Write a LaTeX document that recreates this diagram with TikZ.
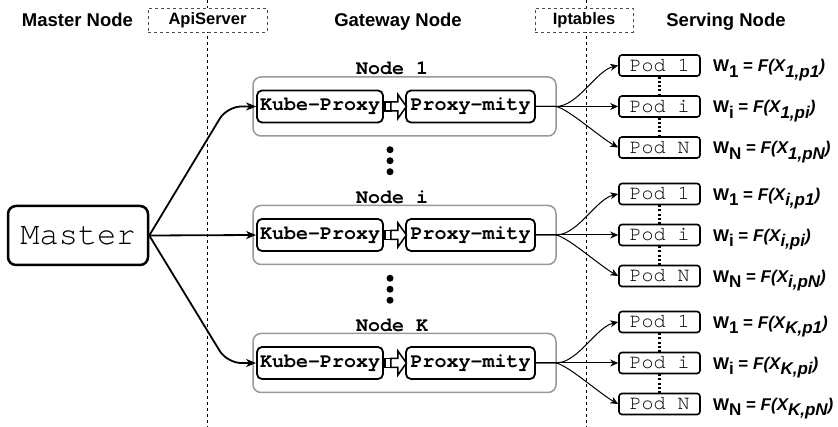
\documentclass[tikz,border=0pt]{standalone}
\usepackage{fontspec}
\setmainfont{Liberation Sans}
\newfontfamily\monofam{texgyrecursor}[Extension=.otf, UprightFont=*-regular, BoldFont=*-bold]
\usetikzlibrary{arrows.meta,calc}
\newcommand\lowr[1]{\raisebox{-5.5pt}{#1}}
\begin{document}
\begin{tikzpicture}[x=1pt,y=-1pt,
  hdr/.style={font=\fontsize{18.5}{20}\selectfont\bfseries, inner sep=0, anchor=base},
  tagbox/.style={draw=black!70, dash pattern=on 3pt off 3pt, line width=0.8pt, fill=white, font=\fontsize{16.5}{18}\selectfont\bfseries, minimum height=24pt, inner sep=0},
  sep/.style={line width=0.8pt, dash pattern=on 3pt off 3pt},
  master/.style={draw, line width=2.5pt, rounded corners=8pt, minimum width=140pt, minimum height=59pt, font=\monofam\fontsize{32}{34}\selectfont, inner sep=0},
  group/.style={draw=black!40, line width=1.5pt, rounded corners=8pt, minimum width=303pt, minimum height=59pt, inner sep=0},
  proc/.style={draw, line width=1.8pt, rounded corners=5pt, minimum height=32pt, font=\monofam\bfseries\fontsize{20}{22}\selectfont, inner sep=0},
  grouplabel/.style={font=\monofam\bfseries\fontsize{20}{22}\selectfont, inner sep=0, anchor=base},
  pod/.style={draw, line width=1.6pt, rounded corners=3pt, minimum width=81pt, minimum height=21pt, font=\monofam\fontsize{20}{22}\selectfont, inner sep=0},
  weight/.style={font=\fontsize{17}{19}\selectfont\bfseries, inner sep=0, anchor=base west},
  marrow/.style={line width=1.8pt, -{Stealth[length=10pt,width=8pt,inset=3pt]}, rounded corners=14pt},
  parrow/.style={line width=1pt, -{Stealth[length=8pt,width=7pt,inset=2.5pt]}},
  podlink/.style={line width=2.5pt, dash pattern=on 2pt off 2.2pt},
  blockarr/.style={line width=1.5pt, fill=white, line join=miter},
]
\fill[white] (0,0) rectangle (838,427);
\useasboundingbox (0,0) rectangle (838,427);

% separators
\coordinate (s1t) at (207,0); \coordinate (s1b) at (207,427);
\coordinate (s2t) at (586,0); \coordinate (s2b) at (586,427);
\draw[sep] (s1t) -- (s1b);
\draw[sep] (s2t) -- (s2b);

% headers
\node[hdr] (hmaster) at (77.5,27) {Master Node};
\node[hdr] (hgate) at (398,27) {Gateway Node};
\node[hdr] (hserve) at (726,27) {Serving Node};
\node[tagbox, minimum width=119pt] (api) at (207.5,20) {ApiServer};
\node[tagbox, minimum width=98pt] (ipt) at (584,20.5) {Iptables};

% master
\node[master] (m) at (78,235.5) {Master};

\foreach \k/\y in {1/106.5, i/235, K/363} {
  \node[group] (g\k) at (404.5,\y) {};
  \node[grouplabel] (gl\k) at (392,\y-31.5) {Node \k};
  \node[proc, minimum width=126pt] (kp\k) at (320,\y) {Kube-Proxy};
  \node[proc, minimum width=129pt] (pm\k) at (470.5,\y) {Proxy-mity};
  \node[pod] (pa\k) at (659.5,\y-41) {Pod 1};
  \node[pod] (pb\k) at (659.5,\y) {Pod i};
  \node[pod] (pc\k) at (659.5,\y+41) {Pod N};
  % block arrow
  \draw[blockarr] ($(kp\k.east)+(1,-4.5)$) rectangle ++(6,9);
  \draw[blockarr] ($(kp\k.east)+(7,-4.5)$) -- ++(7,0) -- ++(0,-7.5) -- ++(8.5,12) -- ++(-8.5,12) -- ++(0,-7.5) -- ++(-7,0) -- cycle;
  % pod arrows
  \draw[parrow] (pm\k.east) -- ++(20,0) .. controls +(22,0) and +(-22,5) .. (pa\k.west);
  \draw[parrow] (pm\k.east) -- (pb\k.west);
  \draw[parrow] (pm\k.east) -- ++(20,0) .. controls +(12,2) and +(-18,-10) .. (pc\k.west);
  % pod links
  \draw[podlink] (pa\k.south) -- (pb\k.north);
  \draw[podlink] (pb\k.south) -- (pc\k.north);
  % weights
  \node[weight] (wa\k) at ($(pa\k.east)+(12,6.5)$) {W\lowr{1} = \textit{F(X\lowr{\k,p1})}};
  \node[weight] (wb\k) at ($(pb\k.east)+(12,6.5)$) {W\lowr{i} = \textit{F(X\lowr{\k,pi})}};
  \node[weight] (wc\k) at ($(pc\k.east)+(12,6.5)$) {W\lowr{N} = \textit{F(X\lowr{\k,pN})}};
}

% ellipsis dots
\foreach \g in {1,i} {
  \foreach \d in {13,24,35} {
    \fill ($(g\g.south)+(-14.5,\d)$) circle (3.5);
  }
}

% master arrows
\draw[marrow] (m.east) -- ([xshift=-29pt]kp1.west) -- (kp1.west);
\draw[marrow] (m.east) -- (kpi.west);
\draw[marrow] (m.east) -- ([xshift=-29pt]kpK.west) -- (kpK.west);
\end{tikzpicture}
\end{document}
